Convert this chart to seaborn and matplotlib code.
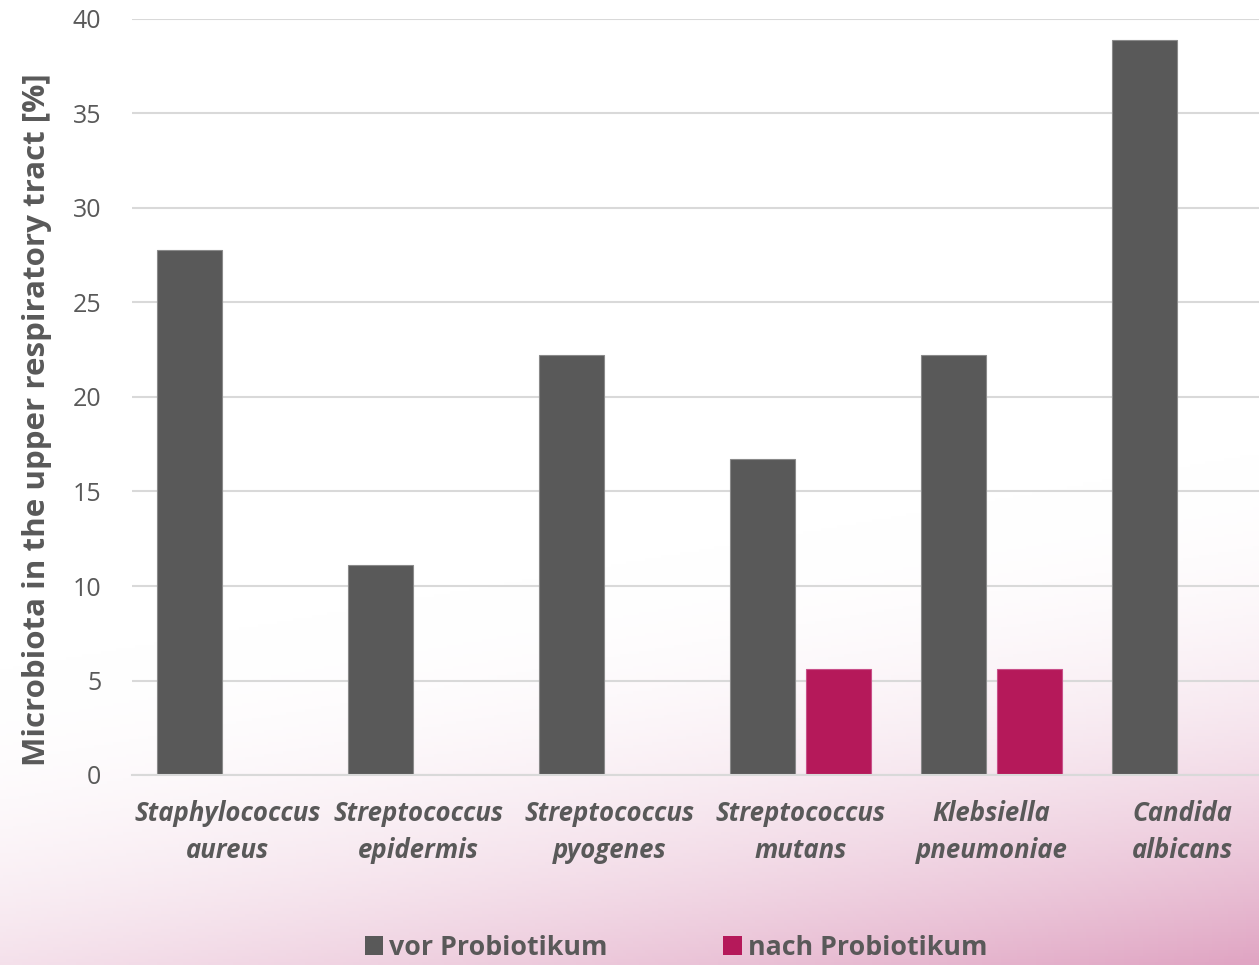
import numpy as np
import pandas as pd
import matplotlib
matplotlib.use("Agg")
import matplotlib.pyplot as plt
import seaborn as sns

# data
organisms = ["Staphylococcus\naureus", "Streptococcus\nepidermis", "Streptococcus\npyogenes",
             "Streptococcus\nmutans", "Klebsiella\npneumoniae", "Candida\nalbicans"]
vor_values = [27.8, 11.1, 22.2, 16.7, 22.2, 38.9]
nach_values = [0, 0, 0, 5.6, 5.6, 0]
series_names = ["vor Probiotikum", "nach Probiotikum"]
y_ticks = [0, 5, 10, 15, 20, 25, 30, 35, 40]

GRAY = "#595959"
PINK = "#B5195A"
TEXT = "#595959"
GRID = "#D9D9D9"

df = pd.DataFrame({
    "organism": organisms * 2,
    "value": vor_values + nach_values,
    "phase": [series_names[0]] * len(organisms) + [series_names[1]] * len(organisms),
})

sns.set_theme(style="white")
plt.rcParams["font.family"] = ["Open Sans", "DejaVu Sans"]

W, H = 1259, 965
fig = plt.figure(figsize=(W / 100, H / 100), dpi=100)

# diagonal white -> pink background
bg = fig.add_axes([0, 0, 1, 1], zorder=-10)
nx = np.linspace(0, 1, 400)[None, :]
ny = np.linspace(0, 1, 320)[:, None]
t = np.clip(1.9 * ny + 0.426 * nx - 1.32, 0, 1) ** 2
end = np.array([224, 165, 195]) / 255.0
img = (1 - t[..., None]) * 1.0 + t[..., None] * end
bg.imshow(img, aspect="auto", extent=[0, 1, 1, 0])
bg.set_xlim(0, 1)
bg.set_ylim(1, 0)
bg.axis("off")

ax = fig.add_axes([132 / W, 190 / H, 1146 / W, 756 / H])
ax.set_facecolor("none")
sns.barplot(data=df, x="organism", y="value", hue="phase", palette=[GRAY, PINK],
            width=0.796, gap=0.145, ax=ax, linewidth=0, saturation=1)

# thin lighter outline like the original
for i, bar in enumerate(ax.patches[:2 * len(organisms)]):
    if i < len(organisms):
        bar.set_edgecolor("#8A8A8A")
    else:
        bar.set_edgecolor("#C9508A")
    bar.set_linewidth(0.8)

ax.set_ylim(0, 40)
ax.set_yticks(y_ticks)
ax.set_xlim(-0.5, len(organisms) - 0.5)
ax.yaxis.grid(True, color=GRID, linewidth=1.5)
ax.set_axisbelow(True)
for side in ["top", "right", "left"]:
    ax.spines[side].set_visible(False)
ax.spines["bottom"].set_color(GRID)
ax.spines["bottom"].set_linewidth(1.5)
ax.tick_params(axis="both", length=0)
ax.tick_params(axis="y", labelsize=18, labelcolor=TEXT, pad=22)
ax.tick_params(axis="x", labelsize=18.5, labelcolor=TEXT, pad=18)
for lbl in ax.get_xticklabels():
    lbl.set_fontstyle("italic")
    lbl.set_fontweight("bold")
    lbl.set_linespacing(1.5)

ax.set_xlabel("")
ax.set_ylabel("Microbiota in the upper respiratory tract [%]", fontsize=22.5,
              fontweight="bold", color=TEXT)
ax.yaxis.set_label_coords(-80 / 1146, 0.47)

handles, labels = ax.get_legend_handles_labels()
ax.legend(handles, labels, loc="center", bbox_to_anchor=(676 / W, 17 / H),
          bbox_transform=fig.transFigure, ncol=2, frameon=False,
          handlelength=0.7, handleheight=0.7, handletextpad=0.22, columnspacing=4.3,
          prop={"size": 19.3, "weight": "bold"}, labelcolor=TEXT)

fig.savefig("out.png", dpi=100)
